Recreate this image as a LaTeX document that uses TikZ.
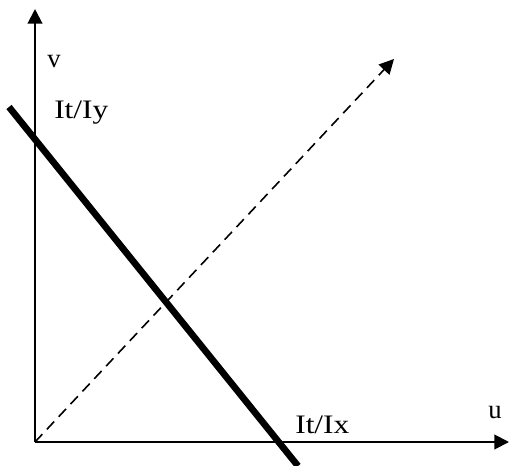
\documentclass[tikz,border=0pt]{standalone}
\usepackage{fontspec}
\setmainfont{Liberation Serif}
\usetikzlibrary{calc,arrows.meta}
\usetikzlibrary{positioning}

\begin{document}
\begin{tikzpicture}[
    x=0.75pt, y=-0.75pt,
    axis/.style={line width=1.5pt, -{Triangle[length=11pt, width=11pt]}},
    budget/.style={line width=5pt},
    diag/.style={line width=1.2pt, dash pattern=on 8pt off 5pt, -{Triangle[length=11pt, width=11pt]}},
    lbl/.style={inner sep=0pt, anchor=base west, font=\fontsize{20}{24}\selectfont}
]
    \useasboundingbox (0,0) rectangle (509,466);
    \coordinate (O) at (35,442);
    \coordinate (uEnd) at (509,442);
    \coordinate (vEnd) at (35,9);
    \coordinate (dEnd) at (394,59);
    \coordinate (bTop) at (9,107);
    \coordinate (bBot) at (298,466);
    \draw[axis] (O) -- (uEnd);
    \draw[axis] (O) -- (vEnd);
    \draw[diag] (O) -- (dEnd);
    \draw[budget] (bTop) -- (bBot);
    \node[lbl] (u) at (488,418) {u};
    \node[lbl] (v) at (47,68) {v};
    \node[lbl] (ity) at (54,119) {\scalebox{1.18}[1]{It/Iy}};
    \node[lbl] (itx) at (295,433) {\scalebox{1.18}[1]{It/Ix}};
\end{tikzpicture}
\end{document}
